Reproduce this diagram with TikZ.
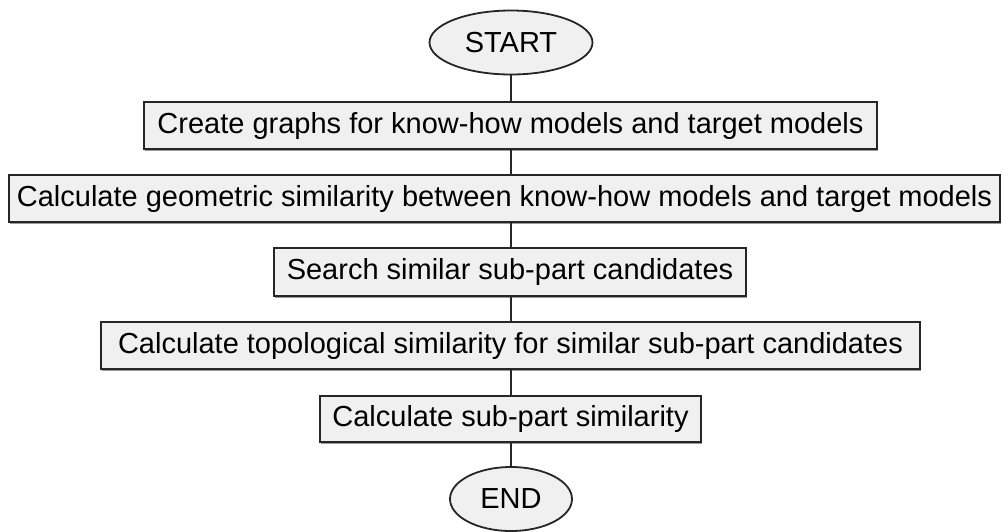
\documentclass[tikz,border=0pt]{standalone}
\usepackage{fontspec}
\setmainfont{Liberation Sans}
\usetikzlibrary{shapes.geometric,shadows}
\begin{document}
\begin{tikzpicture}[x=1pt,y=-1pt,
  stepbox/.style={draw=black!85,line width=1.8pt,fill=black!6,rectangle,inner sep=0pt,
    font=\fontsize{29}{34}\selectfont,
    drop shadow={shadow xshift=1pt,shadow yshift=-1.5pt,opacity=0.4,fill=black}},
  term/.style={draw=black!85,line width=1.8pt,fill=black!6,ellipse,inner sep=0pt,
    font=\fontsize{29}{34}\selectfont},
  conn/.style={draw=black!85,line width=1.8pt}]
\useasboundingbox (0,0) rectangle (1002,531);
\node[term,minimum width=163pt,minimum height=64pt] (start) at (511,42.5) {START};
\node[stepbox,minimum width=733pt,minimum height=47pt] (b1) at (510.5,125.5) {Create graphs for know-how models and target models};
\node[stepbox,minimum width=991pt,minimum height=47pt] (b2) at (504.5,198.5) {Calculate geometric similarity between know-how models and target models};
\node[stepbox,minimum width=472pt,minimum height=48pt] (b3) at (510,272) {Search similar sub-part candidates};
\node[stepbox,minimum width=819pt,minimum height=47pt] (b4) at (510.5,345.5) {Calculate topological similarity for similar sub-part candidates};
\node[stepbox,minimum width=381pt,minimum height=46pt] (b5) at (510.5,419) {Calculate sub-part similarity};
\node[term,minimum width=122pt,minimum height=64pt] (end) at (511,499) {END};
\draw[conn] (start.south) -- (start.south |- b1.north);
\draw[conn] (start.south |- b1.south) -- (start.south |- b2.north);
\draw[conn] (start.south |- b2.south) -- (start.south |- b3.north);
\draw[conn] (start.south |- b3.south) -- (start.south |- b4.north);
\draw[conn] (start.south |- b4.south) -- (start.south |- b5.north);
\draw[conn] (start.south |- b5.south) -- (end.north);
\end{tikzpicture}
\end{document}
